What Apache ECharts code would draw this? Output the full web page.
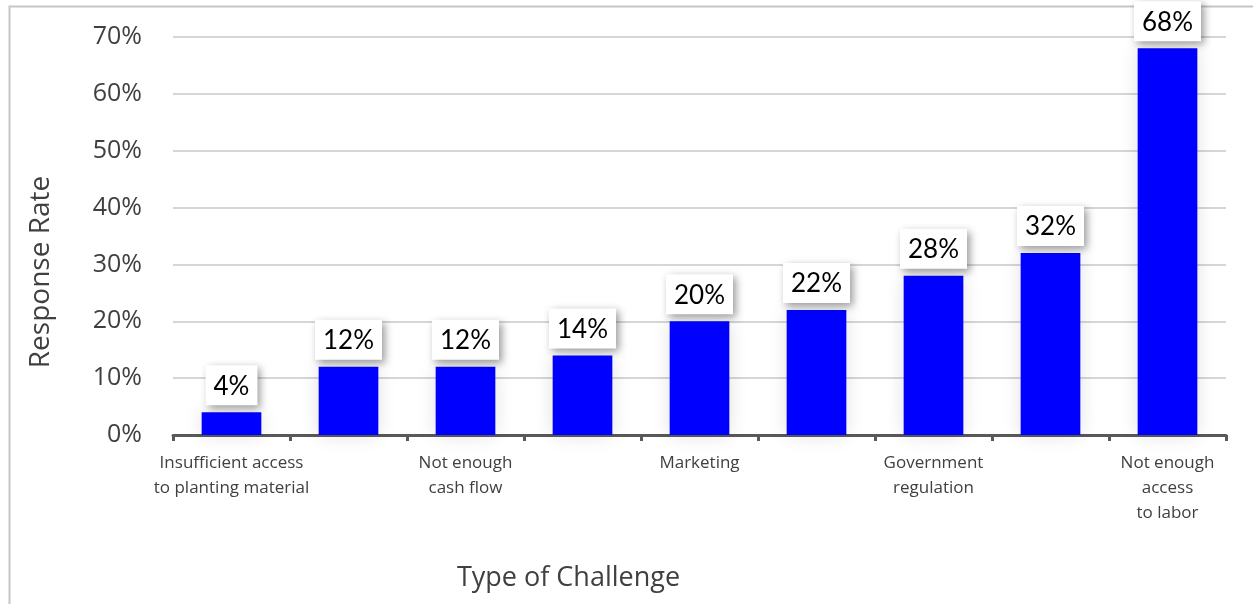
<!DOCTYPE html>
<html>
<head>
<meta charset="utf-8">
<script src="https://cdn.jsdelivr.net/npm/echarts@6/dist/echarts.min.js"></script>
<style>
html,body{margin:0;padding:0;background:#fff;}
#chart{width:1253px;height:604px;}
</style>
</head>
<body>
<div id="chart"></div>
<script>
// Categories (only every other one is labelled in the reference)
var categories = [
  "Insufficient access\nto planting material",
  "",
  "Not enough\ncash flow",
  "",
  "Marketing",
  "",
  "Government\nregulation",
  "",
  "Not enough\naccess\nto labor"
];
// Response rate values (%)
var responseRates = [4, 12, 12, 14, 20, 22, 28, 32, 68];
// Y axis range / ticks
var yMin = 0, yMax = 70, yInterval = 10;

var chart = echarts.init(document.getElementById('chart'), null, {renderer: 'canvas'});
var option = {
  animation: false,
  backgroundColor: '#ffffff',
  graphic: [{
    type: 'rect',
    left: 7, top: 4,
    shape: {x: 0, y: 0, width: 1300, height: 700},
    style: {fill: 'none', stroke: '#c6c6c6', lineWidth: 2},
    silent: true, z: -10
  }],
  grid: {left: 173, right: 27, top: 37, bottom: 169, containLabel: false},
  xAxis: {
    type: 'category',
    data: categories,
    name: 'Type of Challenge',
    nameLocation: 'middle',
    nameGap: 130,
    nameTextStyle: {fontFamily: 'Open Sans', fontSize: 27, color: '#404040', padding: [0, 262, 0, 0]},
    axisLine: {show: true, lineStyle: {color: '#595959', width: 3}},
    axisTick: {show: true, interval: 0, length: 6, lineStyle: {color: '#595959', width: 3}},
    axisLabel: {interval: 0, fontFamily: 'Open Sans', fontSize: 17, color: '#404040', lineHeight: 25, margin: 16}
  },
  yAxis: {
    type: 'value',
    min: yMin, max: yMax, interval: yInterval,
    name: 'Response Rate',
    nameLocation: 'middle',
    nameGap: 118,
    nameRotate: 90,
    nameTextStyle: {fontFamily: 'Open Sans', fontSize: 28, color: '#404040', padding: [0, 72, 0, 0]},
    axisLine: {show: false},
    axisTick: {show: false},
    axisLabel: {formatter: '{value}%', fontFamily: 'Open Sans', fontSize: 25, color: '#404040', margin: 31},
    splitLine: {lineStyle: {color: '#c9c9c9', width: 1.5}}
  },
  series: [{
    type: 'bar',
    data: responseRates,
    barWidth: '51%',
    itemStyle: {color: '#0000ff', shadowBlur: 18, shadowColor: 'rgba(0,0,0,0.13)'},
    label: {
      show: true,
      position: 'top',
      distance: 7,
      formatter: '{c}%',
      fontFamily: 'Lato',
      fontSize: 26,
      color: '#000000',
      backgroundColor: '#ffffff',
      padding: [8, 8, 6, 8],
      shadowBlur: 8,
      shadowColor: 'rgba(0,0,0,0.4)',
      shadowOffsetX: 3,
      shadowOffsetY: 3
    }
  }]
};
chart.setOption(option);
</script>
</body>
</html>
